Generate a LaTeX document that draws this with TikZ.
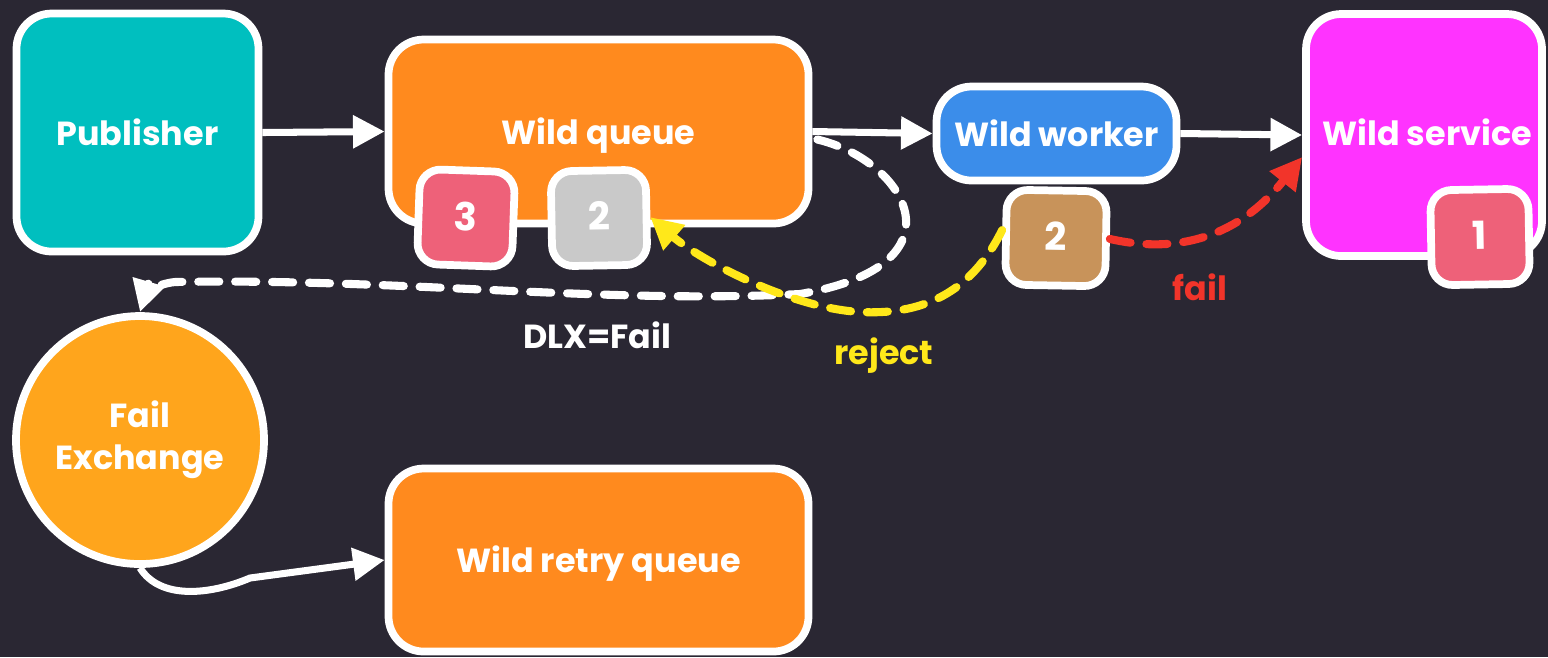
\documentclass[tikz,border=0pt]{standalone}
\usepackage{fontspec}
\setmainfont{Poppins}
\usetikzlibrary{arrows.meta,calc}
\definecolor{bg}{HTML}{2A2733}
\definecolor{tealc}{HTML}{00BFBF}
\definecolor{orangec}{HTML}{FF8A1E}
\definecolor{exchc}{HTML}{FFA51C}
\definecolor{bluec}{HTML}{3B8DEA}
\definecolor{magc}{HTML}{FF33FF}
\definecolor{pinkc}{HTML}{EE6179}
\definecolor{greyc}{HTML}{C9C9C9}
\definecolor{brownc}{HTML}{C8935A}
\definecolor{yelc}{HTML}{FFE81A}
\definecolor{redc}{HTML}{F2342A}
\begin{document}
\begin{tikzpicture}[
  font=\bfseries\fontsize{9.5}{12}\selectfont,
  box/.style={draw=white, line width=2.2pt, rounded corners=10pt, text=white, align=center, text height=0.72em, text depth=0pt},
  msg/.style={box, rounded corners=6pt, minimum width=0.95cm, minimum height=0.95cm, font=\bfseries\fontsize{11}{13}\selectfont},
  flow/.style={draw=white, line width=2pt, -{Triangle[length=9pt,width=9pt]}},
  dashflow/.style={line width=2.3pt, line cap=round, dash pattern=on 6pt off 4.5pt, -{Triangle[length=9pt,width=9pt]}},
]
\fill[bg] (0,0) rectangle (15.48,-6.57);
\useasboundingbox (0,0) rectangle (15.48,-6.57);

\node[box, fill=tealc, minimum width=2.42cm, minimum height=2.38cm] (pub) at (1.375,-1.325) {Publisher};
\node[box, fill=orangec, minimum width=4.2cm, minimum height=1.84cm] (wq) at (5.985,-1.315) {Wild queue};
\node[box, fill=bluec, minimum width=2.4cm, minimum height=0.94cm] (ww) at (10.565,-1.335) {Wild worker};
\node[box, fill=magc, minimum width=2.36cm, minimum height=2.42cm, inner xsep=0pt] (ws) at (14.24,-1.35) {};
\node[text=white, text height=0.72em, text depth=0pt] at (14.27,-1.33) {Wild service};
\node[circle, draw=white, line width=2.2pt, fill=exchc, text=white, align=center, minimum size=2.48cm] (fx) at (1.40,-4.40) {Fail\\Exchange};
\node[box, fill=orangec, minimum width=4.2cm, minimum height=1.83cm] (rq) at (5.985,-5.60) {Wild retry queue};

\node[msg, fill=pinkc, rotate=-2] (m3) at (4.66,-2.18) {3};
\node[msg, fill=greyc, rotate=1] (gm) at (5.99,-2.18) {2};
\node[msg, fill=brownc, minimum width=1.0cm, rotate=-1] (bm) at (10.56,-2.38) {2};
\node[msg, fill=pinkc, minimum width=0.98cm, rotate=1] (m1) at (14.80,-2.37) {1};

\draw[flow] (pub.east) -- (wq.west);
\draw[flow] (wq.east) -- (ww.west);
\draw[flow] (ww.east) -- (ws.west);

\draw[dashflow, white] ($(wq.east)+(0.05,-0.08)$) .. controls (9.05,-1.6) and (9.7,-2.65) .. (8.0,-2.94)
  .. controls (6.0,-3.04) and (4.0,-2.78) .. (1.75,-2.82)
  .. controls (1.55,-2.84) and (1.45,-2.95) .. (fx.north);

\draw[dashflow, yelc] ($(bm.west)+(0,0.07)$) .. controls (9.7,-2.95) and (9.2,-3.15) .. (8.6,-3.12)
  .. controls (7.9,-3.08) and (7.0,-2.6) .. (gm.east);

\draw[dashflow, redc] (bm.east) .. controls (11.8,-2.55) and (12.4,-2.35) .. ($(ws.west)+(0,-0.22)$);

\draw[flow] (fx.south) .. controls (1.6,-6.0) and (2.1,-5.95) .. (2.5,-5.78) -- (rq.west);

\node[text=white] (dlx) at (5.97,-3.35) {DLX=Fail};
\node[text=yelc] (rej) at (8.84,-3.56) {reject};
\node[text=redc] (fl) at (12.0,-2.87) {fail};
\end{tikzpicture}
\end{document}
